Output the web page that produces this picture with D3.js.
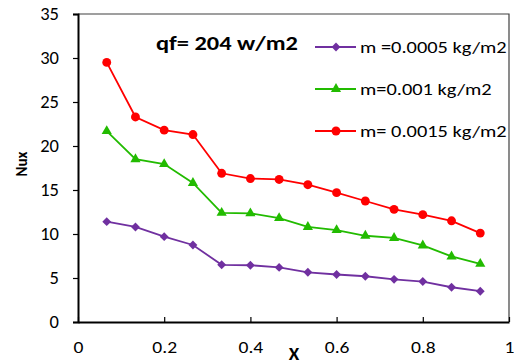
<!DOCTYPE html>
<html>
<head>
<meta charset="utf-8">
<script src="https://cdn.jsdelivr.net/npm/d3@7"></script>
<style>
  body { margin: 0; background: #fff; }
  svg text { font-family: Carlito, Calibri, Lato, sans-serif; }
</style>
</head>
<body>
<div id="chart"></div>
<script>
// data
const xValues = [1, 2, 3, 4, 5, 6, 7, 8, 9, 10, 11, 12, 13, 14].map(k => k / 15);
const seriesNames = ['m =0.0005 kg/m2', 'm=0.001 kg/m2', 'm= 0.0015 kg/m2'];
const nuxLow = [11.4, 10.8, 9.7, 8.75, 6.5, 6.45, 6.2, 5.65, 5.4, 5.2, 4.85, 4.6, 3.95, 3.5];
const nuxMid = [21.7, 18.5, 17.95, 15.8, 12.4, 12.35, 11.8, 10.8, 10.45, 9.8, 9.55, 8.7, 7.45, 6.6];
const nuxHigh = [29.5, 23.3, 21.8, 21.3, 16.9, 16.3, 16.2, 15.6, 14.7, 13.75, 12.8, 12.2, 11.5, 10.1];
const xTicks = [0, 0.2, 0.4, 0.6, 0.8, 1];
const yTicks = [0, 5, 10, 15, 20, 25, 30, 35];
const titleText = 'qf= 204 w/m2';

const margin = {top: 14, right: 5, bottom: 42, left: 78};
const W = 514, H = 364;
const width = W - margin.left - margin.right;
const height = H - margin.top - margin.bottom;

// the source chart's text is a bit wider than the font, so widen it
function widen(sel, f) {
  sel.each(function() {
    const len = this.getComputedTextLength();
    d3.select(this).attr('textLength', len * f).attr('lengthAdjust', 'spacingAndGlyphs');
  });
}

const svg = d3.select('#chart').append('svg')
  .attr('width', W)
  .attr('height', H);

const g = svg.append('g')
  .attr('transform', 'translate(' + margin.left + ',' + margin.top + ')');

const x = d3.scaleLinear().domain([0, 1]).range([0, width]);
const y = d3.scaleLinear().domain([0, 35]).range([height, 0]);

// plot area border (top + right)
g.append('path')
  .attr('d', 'M0,0H' + width + 'V' + height)
  .attr('fill', 'none')
  .attr('stroke', '#404040')
  .attr('stroke-width', 1.2);

// y axis
const yAxis = g.append('g')
  .call(d3.axisLeft(y).tickValues(yTicks).tickSize(5).tickPadding(14).tickFormat(d3.format('d')));
yAxis.select('.domain').attr('stroke', '#000').attr('stroke-width', 2);
yAxis.selectAll('.tick line').attr('stroke', '#000').attr('stroke-width', 1.2);
yAxis.selectAll('text').attr('font-size', 18.5).attr('fill', '#000');

// x axis, ticks point inward
const xAxis = g.append('g')
  .attr('transform', 'translate(0,' + height + ')')
  .call(d3.axisBottom(x).tickValues(xTicks).tickSizeInner(-5).tickSizeOuter(0).tickPadding(19)
    .tickFormat(d => d === 0 || d === 1 ? String(d) : d3.format('.1f')(d)));
xAxis.select('.domain').attr('stroke', '#000').attr('stroke-width', 2);
xAxis.selectAll('.tick line').attr('stroke', '#000').attr('stroke-width', 1.2);
xAxis.selectAll('text').attr('font-size', 17).attr('fill', '#000');
widen(xAxis.selectAll('text'), 1.15);

// axis titles
svg.append('text')
  .attr('x', 294).attr('y', 360)
  .attr('text-anchor', 'middle')
  .attr('font-size', 19).attr('font-weight', 'bold')
  .text('X');

svg.append('text')
  .attr('transform', 'translate(27,164) rotate(-90)')
  .attr('text-anchor', 'middle')
  .attr('font-size', 15).attr('font-weight', 'bold')
  .text('Nux');

// title inside plot
const title = svg.append('text')
  .attr('x', 156).attr('y', 50)
  .attr('font-size', 20.5).attr('font-weight', 'bold')
  .text(titleText);
widen(title, 1.19);

const series = [
  {name: seriesNames[0], values: nuxLow, color: '#7030A0', shape: d3.symbolDiamond2, size: 50},
  {name: seriesNames[1], values: nuxMid, color: '#22BB00', shape: d3.symbolTriangle, size: 45},
  {name: seriesNames[2], values: nuxHigh, color: '#FF0000', shape: d3.symbolCircle, size: 62}
];

const line = d3.line()
  .x(d => x(d[0]))
  .y(d => y(d[1]));

series.forEach(s => {
  const pts = xValues.map((xv, i) => [xv, s.values[i]]);
  g.append('path')
    .datum(pts)
    .attr('fill', 'none')
    .attr('stroke', s.color)
    .attr('stroke-width', 1.8)
    .attr('d', line);
  g.selectAll(null)
    .data(pts)
    .enter().append('path')
    .attr('transform', d => 'translate(' + x(d[0]) + ',' + y(d[1]) + ')')
    .attr('d', d3.symbol().type(s.shape).size(s.size))
    .attr('fill', s.color);
});

// legend
const legend = svg.append('g').attr('transform', 'translate(315,47)');
series.forEach((s, i) => {
  const row = legend.append('g').attr('transform', 'translate(0,' + (i * 42) + ')');
  row.append('line')
    .attr('x1', 0).attr('x2', 41)
    .attr('stroke', s.color).attr('stroke-width', 1.8);
  row.append('path')
    .attr('transform', 'translate(21,0)')
    .attr('d', d3.symbol().type(s.shape).size(s.size))
    .attr('fill', s.color);
  const t = row.append('text')
    .attr('x', 45).attr('dy', '0.35em')
    .attr('font-size', 17)
    .text(s.name);
  widen(t, 1.2);
});
</script>
</body>
</html>
